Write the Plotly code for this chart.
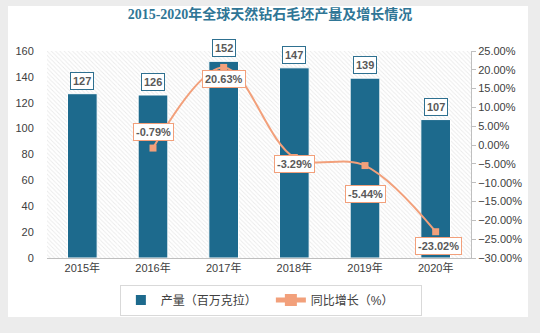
import plotly.graph_objects as go

years = ["2015年", "2016年", "2017年", "2018年", "2019年", "2020年"]
output = [127, 126, 152, 147, 139, 107]
growth_years = ["2016年", "2017年", "2018年", "2019年", "2020年"]
growth = [-0.79, 20.63, -3.29, -5.44, -23.02]
growth_label_shift = [16, -12, -7, -28, -14]

BAR = "#1D6A8D"
LINE = "#F2A07B"
TXT = "#404040"
LBL = "#595959"
FONT = "Liberation Sans, Noto Sans CJK SC, sans-serif"

fig = go.Figure()

# hatched plot background
fig.add_trace(go.Bar(
    x=years, y=[160] * len(years), width=1,
    marker=dict(color="white", line=dict(width=0),
                pattern=dict(shape="\\", fgcolor="#d6d6d6", bgcolor="white", size=3, solidity=0.3)),
    showlegend=False, hoverinfo="skip"))

fig.add_trace(go.Bar(
    x=years, y=output, name="产量（百万克拉）", width=0.42,
    marker=dict(color=BAR, line=dict(color="white", width=1))))

fig.add_trace(go.Scatter(
    x=growth_years, y=growth, name="同比增长（%）", yaxis="y2",
    mode="lines+markers", line=dict(color=LINE, width=2, shape="spline"),
    marker=dict(symbol="square", size=7, color=LINE)))

ann = []
for x, v in zip(years, output):
    ann.append(dict(x=x, y=v, xref="x", yref="y", text=f"<b>{v}</b>", showarrow=False,
                    yshift=13, font=dict(size=11, color=LBL, family=FONT),
                    bgcolor="white", bordercolor="#2E7090", borderwidth=1, borderpad=2))
for x, v, s in zip(growth_years, growth, growth_label_shift):
    ann.append(dict(x=x, y=v, xref="x", yref="y2", text=f"<b>{v:.2f}%</b>", showarrow=False,
                    yshift=s, xshift=3 if v < -20 else 0,
                    font=dict(size=11, color=LBL, family=FONT),
                    bgcolor="white", bordercolor=LINE, borderwidth=1, borderpad=2))

fig.update_layout(
    width=540, height=333,
    margin=dict(l=47, r=69, t=51, b=75),
    paper_bgcolor="#ececec", plot_bgcolor="white",
    barmode="overlay",
    font=dict(family=FONT, size=11, color=TXT),
    title=dict(text="<b>2015-2020年全球天然钻石毛坯产量及增长情况</b>",
               x=0.5, xanchor="center", y=1 - 14 / 333, yanchor="middle",
               font=dict(size=14, color="#2F7696", family="Liberation Serif, Noto Sans CJK SC, serif")),
    xaxis=dict(type="category", showgrid=False, showline=True, linecolor="#bfbfbf", linewidth=1,
               ticks="", tickfont=dict(size=11, color=TXT, family=FONT), range=[-0.5, 5.5]),
    yaxis=dict(range=[0, 160], dtick=20, showgrid=False, zeroline=False, showline=False,
               ticks="outside", ticklen=10, tickcolor="rgba(0,0,0,0)",
               tickfont=dict(size=11, color=TXT)),
    yaxis2=dict(range=[-30, 25], dtick=5, overlaying="y", side="right", showgrid=False,
                zeroline=False, showline=True, linecolor="#bfbfbf", linewidth=1,
                ticks="outside", ticklen=4, tickcolor="#bfbfbf",
                tickformat=".2f", ticksuffix="%", tickfont=dict(size=11, color=TXT)),
    legend=dict(orientation="h", x=0.528, xanchor="center", y=-0.203, yanchor="middle",
                bordercolor="#d9d9d9", borderwidth=1, bgcolor="white",
                font=dict(size=12, color=TXT), itemsizing="constant",
                entrywidth=105, entrywidthmode="pixels"),
    annotations=ann,
    shapes=[dict(type="rect", xref="paper", yref="paper", layer="below",
                 x0=-39 / 424, x1=481 / 424, y0=-59 / 207, y1=252 / 207,
                 fillcolor="white", line=dict(width=0))],
)

fig.write_html("out.html")
